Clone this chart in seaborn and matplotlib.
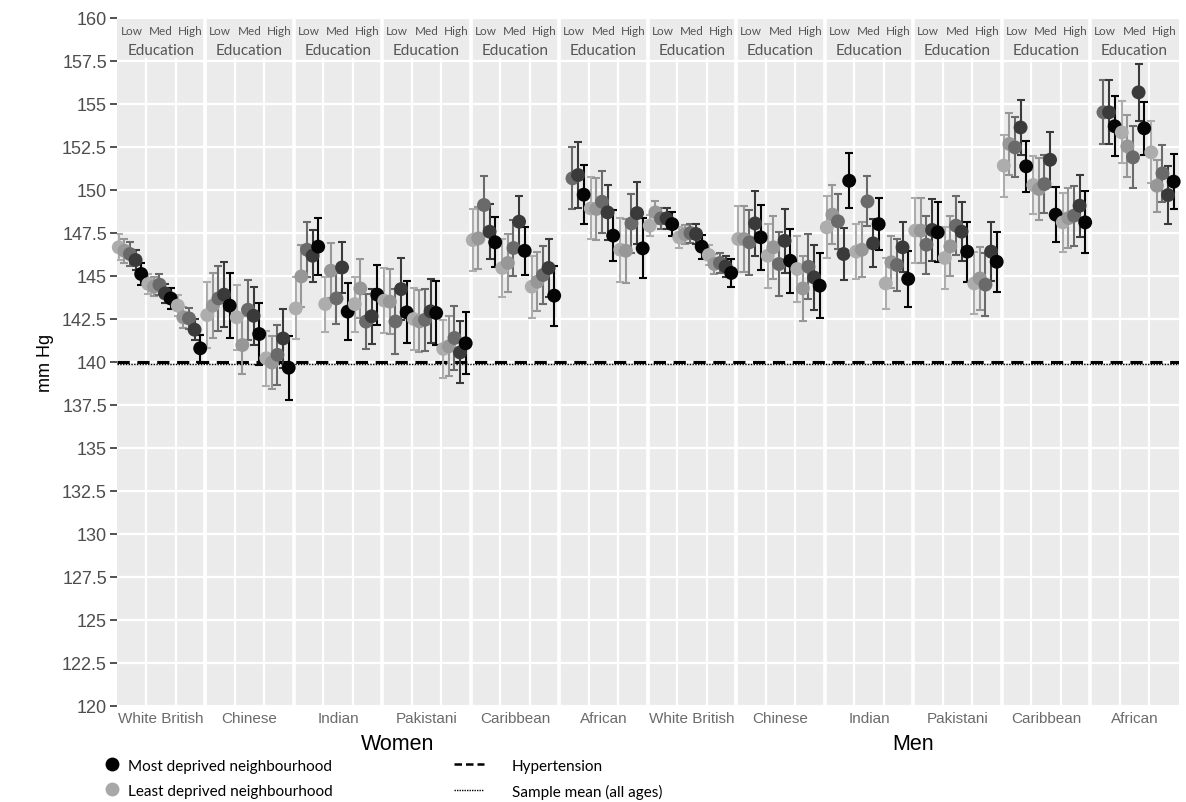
import numpy as np
import pandas as pd
import matplotlib
matplotlib.use("Agg")
import matplotlib.pyplot as plt
from matplotlib.lines import Line2D
import seaborn as sns

groups = ["White British", "Chinese", "Indian", "Pakistani", "Caribbean", "African"]
sexes = ["Women", "Men"]
education = ["Low", "Med", "High"]
quintiles = ["Q1", "Q2", "Q3", "Q4", "Q5"]  # least -> most deprived
grey_levels = ["#ADADAD", "#979797", "#6A6A6A", "#3A3A3A", "#050505"]

# mean SBP (mm Hg): Low Q1..Q5, Med Q1..Q5, High Q1..Q5
w_white_british = [146.65, 146.45, 146.26, 145.91, 145.10,
                   144.52, 144.36, 144.48, 143.97, 143.68,
                   143.26, 142.58, 142.52, 141.86, 140.78]
w_chinese = [142.71, 143.26, 143.68, 143.90, 143.26,
             142.58, 140.97, 143.02, 142.67, 141.61,
             140.20, 139.95, 140.40, 141.35, 139.65]
w_indian = [143.10, 144.96, 146.51, 146.16, 146.69,
            143.35, 145.29, 143.68, 145.48, 142.91,
            143.35, 144.26, 142.33, 142.64, 143.90]
w_pakistani = [143.55, 143.49, 142.34, 144.22, 142.87,
               142.48, 142.34, 142.44, 142.93, 142.83,
               140.74, 140.89, 141.38, 140.54, 141.07]
w_caribbean = [147.07, 147.17, 149.11, 147.56, 146.94,
               145.45, 145.74, 146.61, 148.14, 146.45,
               144.36, 144.65, 145.04, 145.45, 143.84]
w_african = [np.nan, np.nan, 150.66, 150.85, 149.71,
             148.91, 148.88, 149.30, 148.68, 147.33,
             146.51, 146.45, 148.04, 148.64, 146.59]

m_white_british = [147.91, 148.68, 148.33, 148.33, 148.00,
                   147.23, 147.42, 147.48, 147.42, 146.69,
                   146.20, 145.68, 145.74, 145.54, 145.16]
m_chinese = [147.13, 147.13, 146.94, 148.04, 147.23,
             146.16, 146.65, 145.68, 147.03, 145.87,
             145.39, 144.26, 145.52, 144.90, 144.42]
m_indian = [147.81, 148.55, 148.16, 146.26, 150.52,
            146.40, 146.51, 149.32, 146.88, 148.00,
            144.55, 145.78, 145.62, 146.65, 144.81]
m_pakistani = [147.62, 147.62, 146.80, 147.66, 147.52,
               146.03, 146.71, 147.91, 147.56, 146.40,
               144.55, 144.84, 144.48, 146.40, 145.81]
m_caribbean = [151.40, 152.66, 152.46, 153.62, 151.36,
               150.27, 150.04, 150.33, 151.74, 148.55,
               148.10, 148.35, 148.49, 149.07, 148.10]
m_african = [np.nan, np.nan, 154.50, 154.50, 153.69,
             153.33, 152.52, 151.88, 155.66, 153.57,
             152.17, 150.23, 150.95, 149.69, 150.47]

# half width of the 95% CI, same order
w_white_british_ci = [0.75, 0.7, 0.7, 0.6, 0.65, 0.6, 0.55, 0.6, 0.55, 0.6, 0.6, 0.6, 0.6, 0.6, 0.8]
w_chinese_ci = [1.9, 1.9, 1.9, 1.9, 1.9, 1.9, 1.7, 1.75, 1.7, 1.8, 1.6, 1.55, 1.75, 1.7, 1.85]
w_indian_ci = [1.8, 1.8, 1.6, 1.5, 1.65, 1.6, 1.6, 1.5, 1.5, 1.65, 1.6, 1.7, 1.6, 1.6, 1.75]
w_pakistani_ci = [1.9, 1.9, 1.9, 1.8, 1.8, 1.8, 1.8, 1.8, 1.85, 1.85, 1.7, 1.75, 1.85, 1.8, 1.8]
w_caribbean_ci = [1.8, 1.8, 1.7, 1.6, 1.45, 1.7, 1.7, 1.6, 1.5, 1.4, 1.8, 1.7, 1.7, 1.7, 1.75]
w_african_ci = [np.nan, np.nan, 1.8, 1.9, 1.7, 1.8, 1.8, 1.8, 1.6, 1.5, 1.85, 1.85, 1.7, 1.8, 1.75]

m_white_british_ci = [0.6, 0.65, 0.6, 0.6, 0.7, 0.6, 0.55, 0.55, 0.6, 0.7, 0.6, 0.6, 0.6, 0.6, 0.8]
m_chinese_ci = [1.9, 1.9, 1.9, 1.9, 1.9, 1.85, 1.85, 1.85, 1.85, 1.85, 1.9, 1.9, 1.9, 1.9, 1.9]
m_indian_ci = [1.8, 1.7, 1.6, 1.5, 1.6, 1.6, 1.6, 1.45, 1.4, 1.5, 1.5, 1.5, 1.5, 1.45, 1.65]
m_pakistani_ci = [1.9, 1.9, 1.7, 1.8, 1.75, 1.8, 1.75, 1.7, 1.7, 1.75, 1.8, 1.85, 1.85, 1.7, 1.75]
m_caribbean_ci = [1.8, 1.8, 1.75, 1.6, 1.5, 1.7, 1.8, 1.7, 1.6, 1.6, 1.7, 1.75, 1.75, 1.8, 1.8]
m_african_ci = [np.nan, np.nan, 1.85, 1.85, 1.75, 1.8, 1.8, 1.8, 1.65, 1.55, 1.8, 1.5, 1.65, 1.7, 1.6]

hypertension = 140.0
sample_mean = 139.88

means = [w_white_british, w_chinese, w_indian, w_pakistani, w_caribbean, w_african,
         m_white_british, m_chinese, m_indian, m_pakistani, m_caribbean, m_african]
cis = [w_white_british_ci, w_chinese_ci, w_indian_ci, w_pakistani_ci, w_caribbean_ci, w_african_ci,
       m_white_british_ci, m_chinese_ci, m_indian_ci, m_pakistani_ci, m_caribbean_ci, m_african_ci]

rows = []
for gi, (vals, errs) in enumerate(zip(means, cis)):
    for ei, edu in enumerate(education):
        for qi, q in enumerate(quintiles):
            k = ei * 5 + qi
            rows.append({
                "sex": sexes[gi // 6], "group": groups[gi % 6], "education": edu,
                "quintile": q, "sbp": vals[k], "ci": errs[k],
                # one 1-wide slot per education level, quintiles dodged inside it
                "x": gi * 3 + ei + 0.45 + (qi - 2) * 0.19,
            })
df = pd.DataFrame(rows).dropna()

W, H = 1186, 803
fig = plt.figure(figsize=(W / 100, H / 100), dpi=100)
ax = fig.add_axes([116.7 / W, 1 - 706.7 / H, 1062 / W, 688 / H])
ax.set_facecolor("#EBEBEB")
for s in ax.spines.values():
    s.set_visible(False)

ax.set_xlim(0, 36)
ax.set_ylim(120, 160)
yt = np.arange(120, 160.01, 2.5)
ax.set_yticks(yt)
ax.set_yticklabels([f"{v:g}" for v in yt], fontsize=13, color="#4D4D4D", family="Liberation Sans")
ax.tick_params(axis="y", length=5, width=1.2, color="#333333", pad=2)
ax.grid(axis="y", color="white", lw=1.6)
ax.set_axisbelow(True)

strip_bottom = 157.6
for k in range(1, 36):
    if k % 3 == 0:
        ax.axvline(k, color="white", lw=2.6, zorder=0.6)
    else:
        ax.axvline(k, ymax=(strip_bottom - 120) / 40, color="white", lw=1.6, zorder=0.6)

ax.set_xticks([g * 3 + 1.5 for g in range(12)])
ax.set_xticklabels(groups * 2, fontsize=11, color="#6B6B6B", family="Liberation Sans")
ax.tick_params(axis="x", length=0, pad=4)

ax.axhline(hypertension, color="black", lw=2.2, ls=(0, (4, 2.5)), zorder=2.5)
ax.axhline(sample_mean, color="black", lw=1.0, ls=(0, (1, 1)), zorder=2.5)

palette = dict(zip(quintiles, grey_levels))
for q in quintiles:
    sub = df[df["quintile"] == q]
    ax.errorbar(sub["x"], sub["sbp"], yerr=sub["ci"], fmt="none", ecolor=palette[q],
                elinewidth=1.5, capsize=3, capthick=1.5, zorder=3)
sns.scatterplot(data=df, x="x", y="sbp", hue="quintile", palette=palette, s=100,
                linewidth=0, legend=False, ax=ax, zorder=4, clip_on=False)
ax.set_xlabel("")
ax.set_ylabel("mm Hg", fontsize=13, family="Liberation Sans", labelpad=6)

# education strips on top of each ethnic group
for g in range(12):
    for ei, edu in enumerate(education):
        ax.text(g * 3 + ei + 0.5, 159.25, edu, ha="center", va="center",
                fontsize=8.5, color="#555555", family="Lato")
    ax.text(g * 3 + 1.5, 158.12, "Education", ha="center", va="center",
            fontsize=11, color="#555555", family="Lato")

fig.text(398 / W, 1 - 745 / H, "Women", ha="center", va="center", fontsize=15.5, family="Liberation Sans")
fig.text(913 / W, 1 - 745 / H, "Men", ha="center", va="center", fontsize=15.5, family="Liberation Sans")

dot_handles = [Line2D([], [], ls="none", marker="o", ms=10, mec="none", mfc="black"),
               Line2D([], [], ls="none", marker="o", ms=10, mec="none", mfc="#A8A8A8")]
leg1 = fig.legend(dot_handles, ["Most deprived neighbourhood", "Least deprived neighbourhood"],
                  loc="upper left", bbox_to_anchor=(91 / W, 1 - 746 / H), frameon=False,
                  handlelength=1.0, handletextpad=0.5, labelspacing=0.72,
                  prop={"family": "Lato", "size": 11})
line_handles = [Line2D([], [], color="black", lw=1.8, ls=(0, (3, 1.6))),
                Line2D([], [], color="black", lw=1.0, ls=(0, (1, 0.8)))]
leg2 = fig.legend(line_handles, ["Hypertension", "Sample mean (all ages)"],
                  loc="upper left", bbox_to_anchor=(440 / W, 1 - 746 / H), frameon=False,
                  handlelength=2.0, handletextpad=1.8, labelspacing=0.72,
                  prop={"family": "Lato", "size": 11})

fig.savefig("out.png", dpi=100)
